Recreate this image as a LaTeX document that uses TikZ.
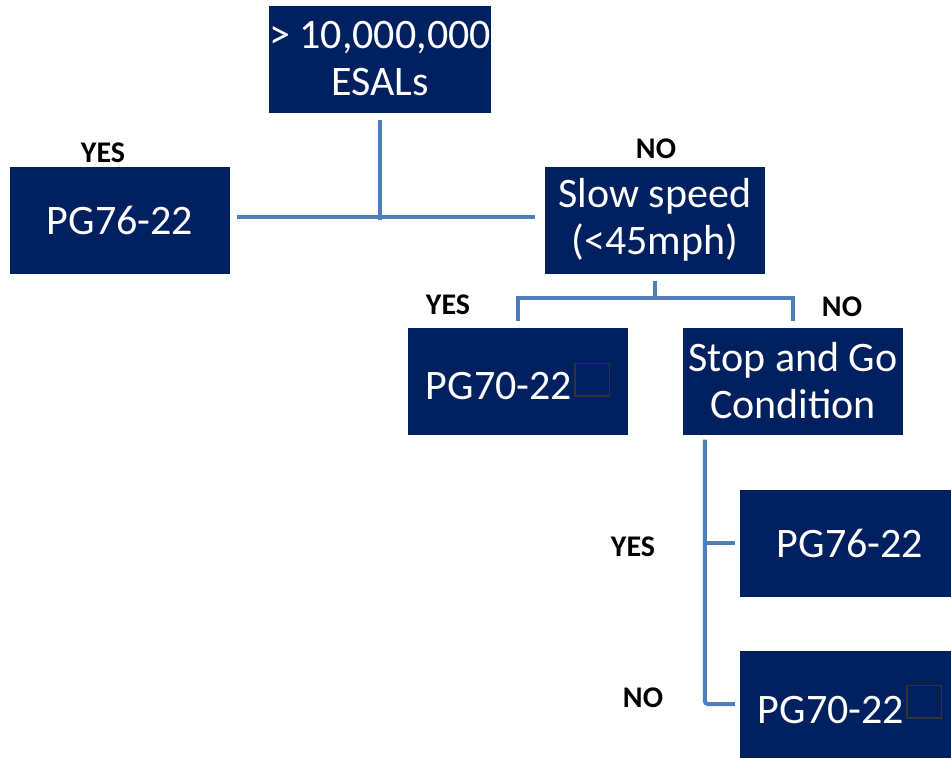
\documentclass[tikz,border=0pt]{standalone}
\usepackage{fontspec}
\setmainfont{Carlito}
\usetikzlibrary{calc}
\definecolor{boxnavy}{HTML}{002060}
\definecolor{linkblue}{HTML}{4F7FBA}
\definecolor{glyphgray}{HTML}{333333}
% leeres Kaestchen (fehlendes Zeichen) hinter dem Text
\newcommand{\emptyglyph}[1]{\kern2pt\raisebox{#1}{\color{glyphgray}\setlength{\fboxrule}{1.5pt}\setlength{\fboxsep}{0pt}\fbox{\rule{0pt}{31pt}\rule{33pt}{0pt}}}}

\begin{document}
\begin{tikzpicture}[x=1pt,y=-1pt,
  decision/.style={fill=boxnavy,text=white,minimum width=220pt,minimum height=107pt,
    inner sep=0pt,align=center,font=\fontsize{42}{47}\selectfont},
  answer/.style={font=\bfseries\fontsize{30}{34}\selectfont},
  link/.style={linkblue,line width=4pt,line join=miter}]
  \clip (0,0) rectangle (951,758);
  % Kaesten
  \node[decision] (esal) at (380,59) {> 10,000,000\\ESALs};
  \node[decision] (left76) at (120,220) {PG76-22};
  \node[decision] (slow) at (655,220) {Slow speed\\(<45mph)};
  \node[decision] (mid70) at (518,381) {PG70-22\emptyglyph{4pt}};
  \node[decision] (stop) at (793,381) {Stop and Go\\Condition};
  \node[decision] (hi76) at (850,543) {PG76-22};
  \node[decision] (low70) at (850,704) {PG70-22\emptyglyph{6pt}};
  % Antworten
  \node[answer] (yesA) at (103,153) {YES};
  \node[answer] (noA) at (656,149) {NO};
  \node[answer] (yesB) at (448,305) {YES};
  \node[answer] (noB) at (842,307) {NO};
  \node[answer] (yesC) at (633,547) {YES};
  \node[answer] (noC) at (643,698) {NO};
  % Verbindungen
  \draw[link] ($(esal.south)+(0,7)$) -- (esal.south |- left76.east);
  \draw[link] ($(left76.east)+(7,-3)$) -- ($(slow.west)+(-10,-3)$);
  \draw[link] ($(slow.south)+(0,7)$) -- ++(0,17) coordinate (fork);
  \draw[link] ($(mid70.north)+(0,-6)$) |- (fork -| stop.north) -- ($(stop.north)+(0,-6)$);
  \coordinate (trunk) at ($(stop.south west)+(22,5)$);
  \draw[link,rounded corners=3pt] (trunk) |- ($(low70.west)+(-5,0)$);
  \draw[link] (trunk |- hi76.west) -- ($(hi76.west)+(-5,0)$);
\end{tikzpicture}
\end{document}
